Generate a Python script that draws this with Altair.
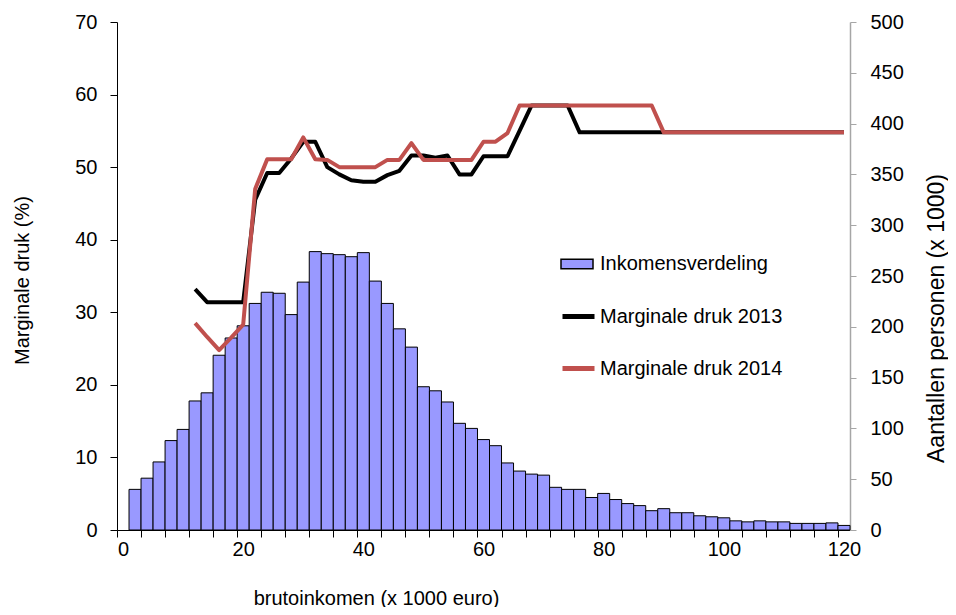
import altair as alt
import pandas as pd

# Income distribution (x 1000 persons), bins of 2 (x 1000 euro)
bar_x = [2, 4, 6, 8, 10, 12, 14, 16, 18, 20, 22, 24, 26, 28, 30, 32, 34, 36, 38, 40,
         42, 44, 46, 48, 50, 52, 54, 56, 58, 60, 62, 64, 66, 68, 70, 72, 74, 76, 78, 80,
         82, 84, 86, 88, 90, 92, 94, 96, 98, 100, 102, 104, 106, 108, 110, 112, 114, 116, 118, 120]
bar_count = [40, 51, 67, 88, 99, 127, 135, 172, 189, 201, 223, 234, 233, 212, 244, 274, 272, 271, 269, 273,
             245, 223, 198, 180, 141, 137, 126, 105, 100, 89, 83, 66, 58, 55, 54, 42, 40, 40, 32, 36,
             30, 26, 24, 19, 21, 17, 17, 14, 13, 12, 9, 8, 9, 8, 8, 6.5, 6.5, 6.5, 7, 4.5]

line_x = [12, 14, 16, 18, 20, 22, 24, 26, 28, 30, 32, 34, 36, 38, 40, 42, 44, 46, 48, 50,
          52, 54, 56, 58, 60, 62, 64, 66, 68, 70, 72, 74, 76, 78, 80, 82, 84, 86, 88, 90,
          92, 94, 96, 98, 100, 102, 104, 106, 108, 110, 112, 114, 116, 118, 120]
druk_2013 = [33.2, 31.4, 31.4, 31.4, 31.4, 45.5, 49.2, 49.2, 51.2, 53.5, 53.5, 50.0, 49.0, 48.2, 48.0, 48.0,
             48.9, 49.5, 51.6, 51.6, 51.3, 51.6, 49.0, 49.0, 51.5, 51.5, 51.5, 55.0, 58.5, 58.5, 58.5, 58.5,
             54.8, 54.8, 54.8, 54.8, 54.8, 54.8, 54.8, 54.8, 54.8, 54.8, 54.8, 54.8, 54.8, 54.8, 54.8, 54.8,
             54.8, 54.8, 54.8, 54.8, 54.8, 54.8, 54.8]
druk_2014 = [28.5, 26.6, 24.8, 26.5, 28.3, 47.0, 51.1, 51.1, 51.1, 54.1, 51.1, 51.0, 50.0, 50.0, 50.0, 50.0,
             51.0, 51.0, 53.3, 51.0, 51.0, 51.0, 51.0, 51.0, 53.5, 53.5, 54.7, 58.5, 58.5, 58.5, 58.5, 58.5,
             58.5, 58.5, 58.5, 58.5, 58.5, 58.5, 58.5, 54.8, 54.8, 54.8, 54.8, 54.8, 54.8, 54.8, 54.8, 54.8,
             54.8, 54.8, 54.8, 54.8, 54.8, 54.8, 54.8]

x_label_values = [0, 20, 40, 60, 80, 100, 120]
x_tick_values = [-1, 3, 7, 11, 15, 19, 23, 27, 31, 35, 39, 43, 47, 51, 55, 59, 63, 67, 71, 75, 79,
                 83, 87, 91, 95, 99, 103, 107, 111, 115, 119]
left_ticks = [0, 10, 20, 30, 40, 50, 60, 70]
right_ticks = [0, 50, 100, 150, 200, 250, 300, 350, 400, 450, 500]

FONT = "Liberation Sans"

bars_df = pd.DataFrame({"x": bar_x, "n": bar_count, "series": "Inkomensverdeling"})
lines_df = pd.concat([
    pd.DataFrame({"x": line_x, "v": druk_2013, "series": "Marginale druk 2013"}),
    pd.DataFrame({"x": line_x, "v": druk_2014, "series": "Marginale druk 2014"}),
])

xscale = alt.Scale(domain=[-1, 121], nice=False, zero=False)

bars = alt.Chart(bars_df).transform_calculate(
    x0="datum.x - 1", x1="datum.x + 1", base="0"
).mark_rect(stroke="black", strokeWidth=1, opacity=1).encode(
    x=alt.X("x0:Q", scale=xscale,
            axis=alt.Axis(values=x_label_values, orient="bottom", ticks=False, grid=False,
                          domainColor="black", domainWidth=1,
                          labelFont=FONT, labelFontSize=20, labelColor="black", labelPadding=9,
                          title="brutoinkomen (x 1000 euro)", titleFont=FONT, titleFontSize=20,
                          titleFontWeight="normal", titleColor="black",
                          titleX=259, titleY=74, titleAlign="center", titleBaseline="alphabetic")),
    x2="x1:Q",
    y=alt.Y("n:Q", scale=alt.Scale(domain=[0, 500], nice=False),
            axis=alt.Axis(orient="right", values=right_ticks, grid=False,
                          domainColor="#a6a6a6", domainWidth=1.5, tickColor="#a6a6a6", tickSize=6,
                          labelFont=FONT, labelFontSize=20, labelColor="black", labelPadding=14,
                          title="Aantallen personen (x 1000)", titleFont=FONT, titleFontSize=23,
                          titleFontWeight="normal", titleColor="black", titleAngle=270,
                          titleX=86, titleY=296, titleAlign="center", titleBaseline="middle")),
    y2="base:Q",
    fill=alt.Fill("series:N", scale=alt.Scale(domain=["Inkomensverdeling"], range=["#9999ff"]),
                  legend=alt.Legend(title=None, orient="none", legendX=443, legendY=225, padding=0,
                                    symbolType="M-1,-0.3H1V0.3H-1Z", symbolSize=1024,
                                    symbolStrokeColor="black", symbolStrokeWidth=1.5, symbolOpacity=1,
                                    labelFont=FONT, labelFontSize=20, labelColor="black",
                                    labelOffset=6, labelLimit=0)),
)

lines = alt.Chart(lines_df).mark_line(strokeWidth=4, strokeJoin="round").encode(
    x=alt.X("x:Q", scale=xscale,
            axis=alt.Axis(values=x_tick_values, orient="bottom", labels=False, domain=False, grid=False,
                          tickColor="black", tickSize=7, title=None)),
    y=alt.Y("v:Q", scale=alt.Scale(domain=[0, 70], nice=False),
            axis=alt.Axis(orient="left", values=left_ticks, grid=False,
                          domainColor="black", domainWidth=1, tickColor="black", tickSize=7,
                          labelFont=FONT, labelFontSize=20, labelColor="black", labelPadding=13,
                          title="Marginale druk (%)", titleFont=FONT, titleFontSize=20,
                          titleFontWeight="normal", titleColor="black", titleAngle=270,
                          titleX=-95, titleY=258, titleAlign="center", titleBaseline="middle")),
    stroke=alt.Stroke("series:N",
                      scale=alt.Scale(domain=["Marginale druk 2013", "Marginale druk 2014"],
                                      range=["#000000", "#c0504d"]),
                      legend=alt.Legend(title=None, orient="none", legendX=443, legendY=276, padding=0,
                                        symbolType="stroke", symbolSize=1024, symbolStrokeWidth=5,
                                        rowPadding=23,
                                        labelFont=FONT, labelFontSize=20, labelColor="black",
                                        labelOffset=3, labelLimit=0)),
    order="x:Q",
)

chart = alt.layer(bars, lines).resolve_scale(
    y="independent", fill="independent", stroke="independent"
).resolve_axis(x="independent").properties(
    width=733, height=508,
    autosize=alt.AutoSizeParams(type="none"),
    padding={"left": 109, "top": 14, "right": 98, "bottom": 77},
    background="white",
).configure_view(stroke=None)

chart.save("out.html", embed_options={"renderer": "svg", "actions": False})
